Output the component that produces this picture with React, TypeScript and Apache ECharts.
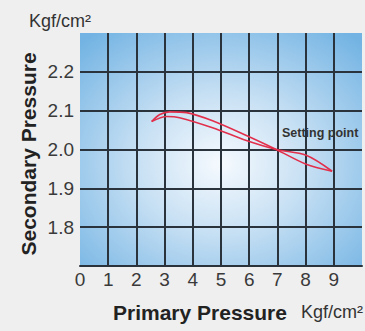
import React, { useEffect, useRef } from "react";
import * as echarts from "echarts";

const branchOneX = [2.54, 2.83, 3.18, 3.78, 4.7, 5.9, 6.96, 8.02, 8.94];
const branchOneY = [2.072, 2.09, 2.097, 2.095, 2.074, 2.036, 2.0, 1.962, 1.944];
const branchTwoX = [2.54, 3.07, 3.53, 4.7, 5.9, 6.96, 8.02, 8.94];
const branchTwoY = [2.072, 2.085, 2.082, 2.056, 2.023, 2.0, 1.985, 1.944];

const xMin = 0, xMax = 10, xStep = 1;
const yMin = 1.7, yMax = 2.3, yStep = 0.1;
const yLabelsShown = [1.8, 1.9, 2.0, 2.1, 2.2];

const DARK = "#2a323c";
const NONE = "rgba(0,0,0,0)";
const SANS = "'Liberation Sans', Arial, sans-serif";

export default function App() {
  const ref = useRef<HTMLDivElement>(null);
  useEffect(() => {
    document.body.style.margin = "0";
    const chart = echarts.init(ref.current!, null, { renderer: "svg" });
    const xColors = [NONE, ...Array(9).fill(DARK), NONE];
    const yColors = [...Array(6).fill(DARK), NONE];
    chart.setOption({
      animation: false,
      backgroundColor: "#efefef",
      grid: {
        left: 80,
        top: 33,
        right: 2,
        bottom: 65,
        show: true,
        borderWidth: 0,
        backgroundColor: new echarts.graphic.RadialGradient(0.5, 0.56, 0.72, [
          { offset: 0, color: "#f6fafe" },
          { offset: 0.4, color: "#c9e1f4" },
          { offset: 1, color: "#72b3e3" },
        ]),
      },
      xAxis: {
        type: "value",
        min: xMin,
        max: xMax,
        interval: xStep,
        axisLine: { show: true, lineStyle: { color: DARK, width: 2 } },
        axisTick: { show: false },
        axisLabel: {
          margin: 4,
          fontSize: 19,
          fontFamily: SANS,
          color: "#3a3a3a",
          formatter: (v: number) => (v >= xMax ? "" : String(v)),
        },
        splitLine: { show: true, lineStyle: { color: xColors, width: 2 } },
      },
      yAxis: {
        type: "value",
        min: yMin,
        max: yMax,
        interval: yStep,
        axisLine: { show: false },
        axisTick: { show: false },
        axisLabel: {
          margin: 6,
          fontSize: 19,
          fontFamily: SANS,
          color: "#3a3a3a",
          formatter: (v: number) => {
            const r = Math.round(v * 10) / 10;
            return yLabelsShown.includes(r) ? r.toFixed(1) : "";
          },
        },
        splitLine: { show: true, lineStyle: { color: yColors, width: 2 } },
      },
      series: [
        {
          type: "line",
          data: branchOneX.map((x, i) => [x, branchOneY[i]]),
          smooth: 0.3,
          symbol: "none",
          lineStyle: { color: "#e2304c", width: 1.6 },
        },
        {
          type: "line",
          data: branchTwoX.map((x, i) => [x, branchTwoY[i]]),
          smooth: 0.3,
          symbol: "none",
          lineStyle: { color: "#e2304c", width: 1.6 },
        },
      ],
      graphic: [
        {
          type: "text",
          left: 29,
          top: 12,
          style: { text: "Kgf/cm²", fontSize: 18, fontFamily: SANS, fill: "#333" },
        },
        {
          type: "text",
          x: 28,
          y: 154,
          rotation: Math.PI / 2,
          style: {
            text: "Secondary Pressure",
            fontSize: 21,
            fontWeight: "bold",
            fontFamily: SANS,
            fill: "#222",
            align: "center",
            verticalAlign: "middle",
          },
        },
        {
          type: "text",
          left: 113,
          top: 302,
          style: { text: "Primary Pressure", fontSize: 21, fontWeight: "bold", fontFamily: SANS, fill: "#222" },
        },
        {
          type: "text",
          left: 301,
          top: 303,
          style: { text: "Kgf/cm²", fontSize: 18, fontFamily: SANS, fill: "#333" },
        },
        {
          type: "text",
          left: 282,
          top: 126,
          style: { text: "Setting point", fontSize: 12.5, fontWeight: "bold", fontFamily: SANS, fill: "#333" },
        },
      ],
    });
    return () => chart.dispose();
  }, []);
  return <div ref={ref} style={{ width: 365, height: 331 }} />;
}
